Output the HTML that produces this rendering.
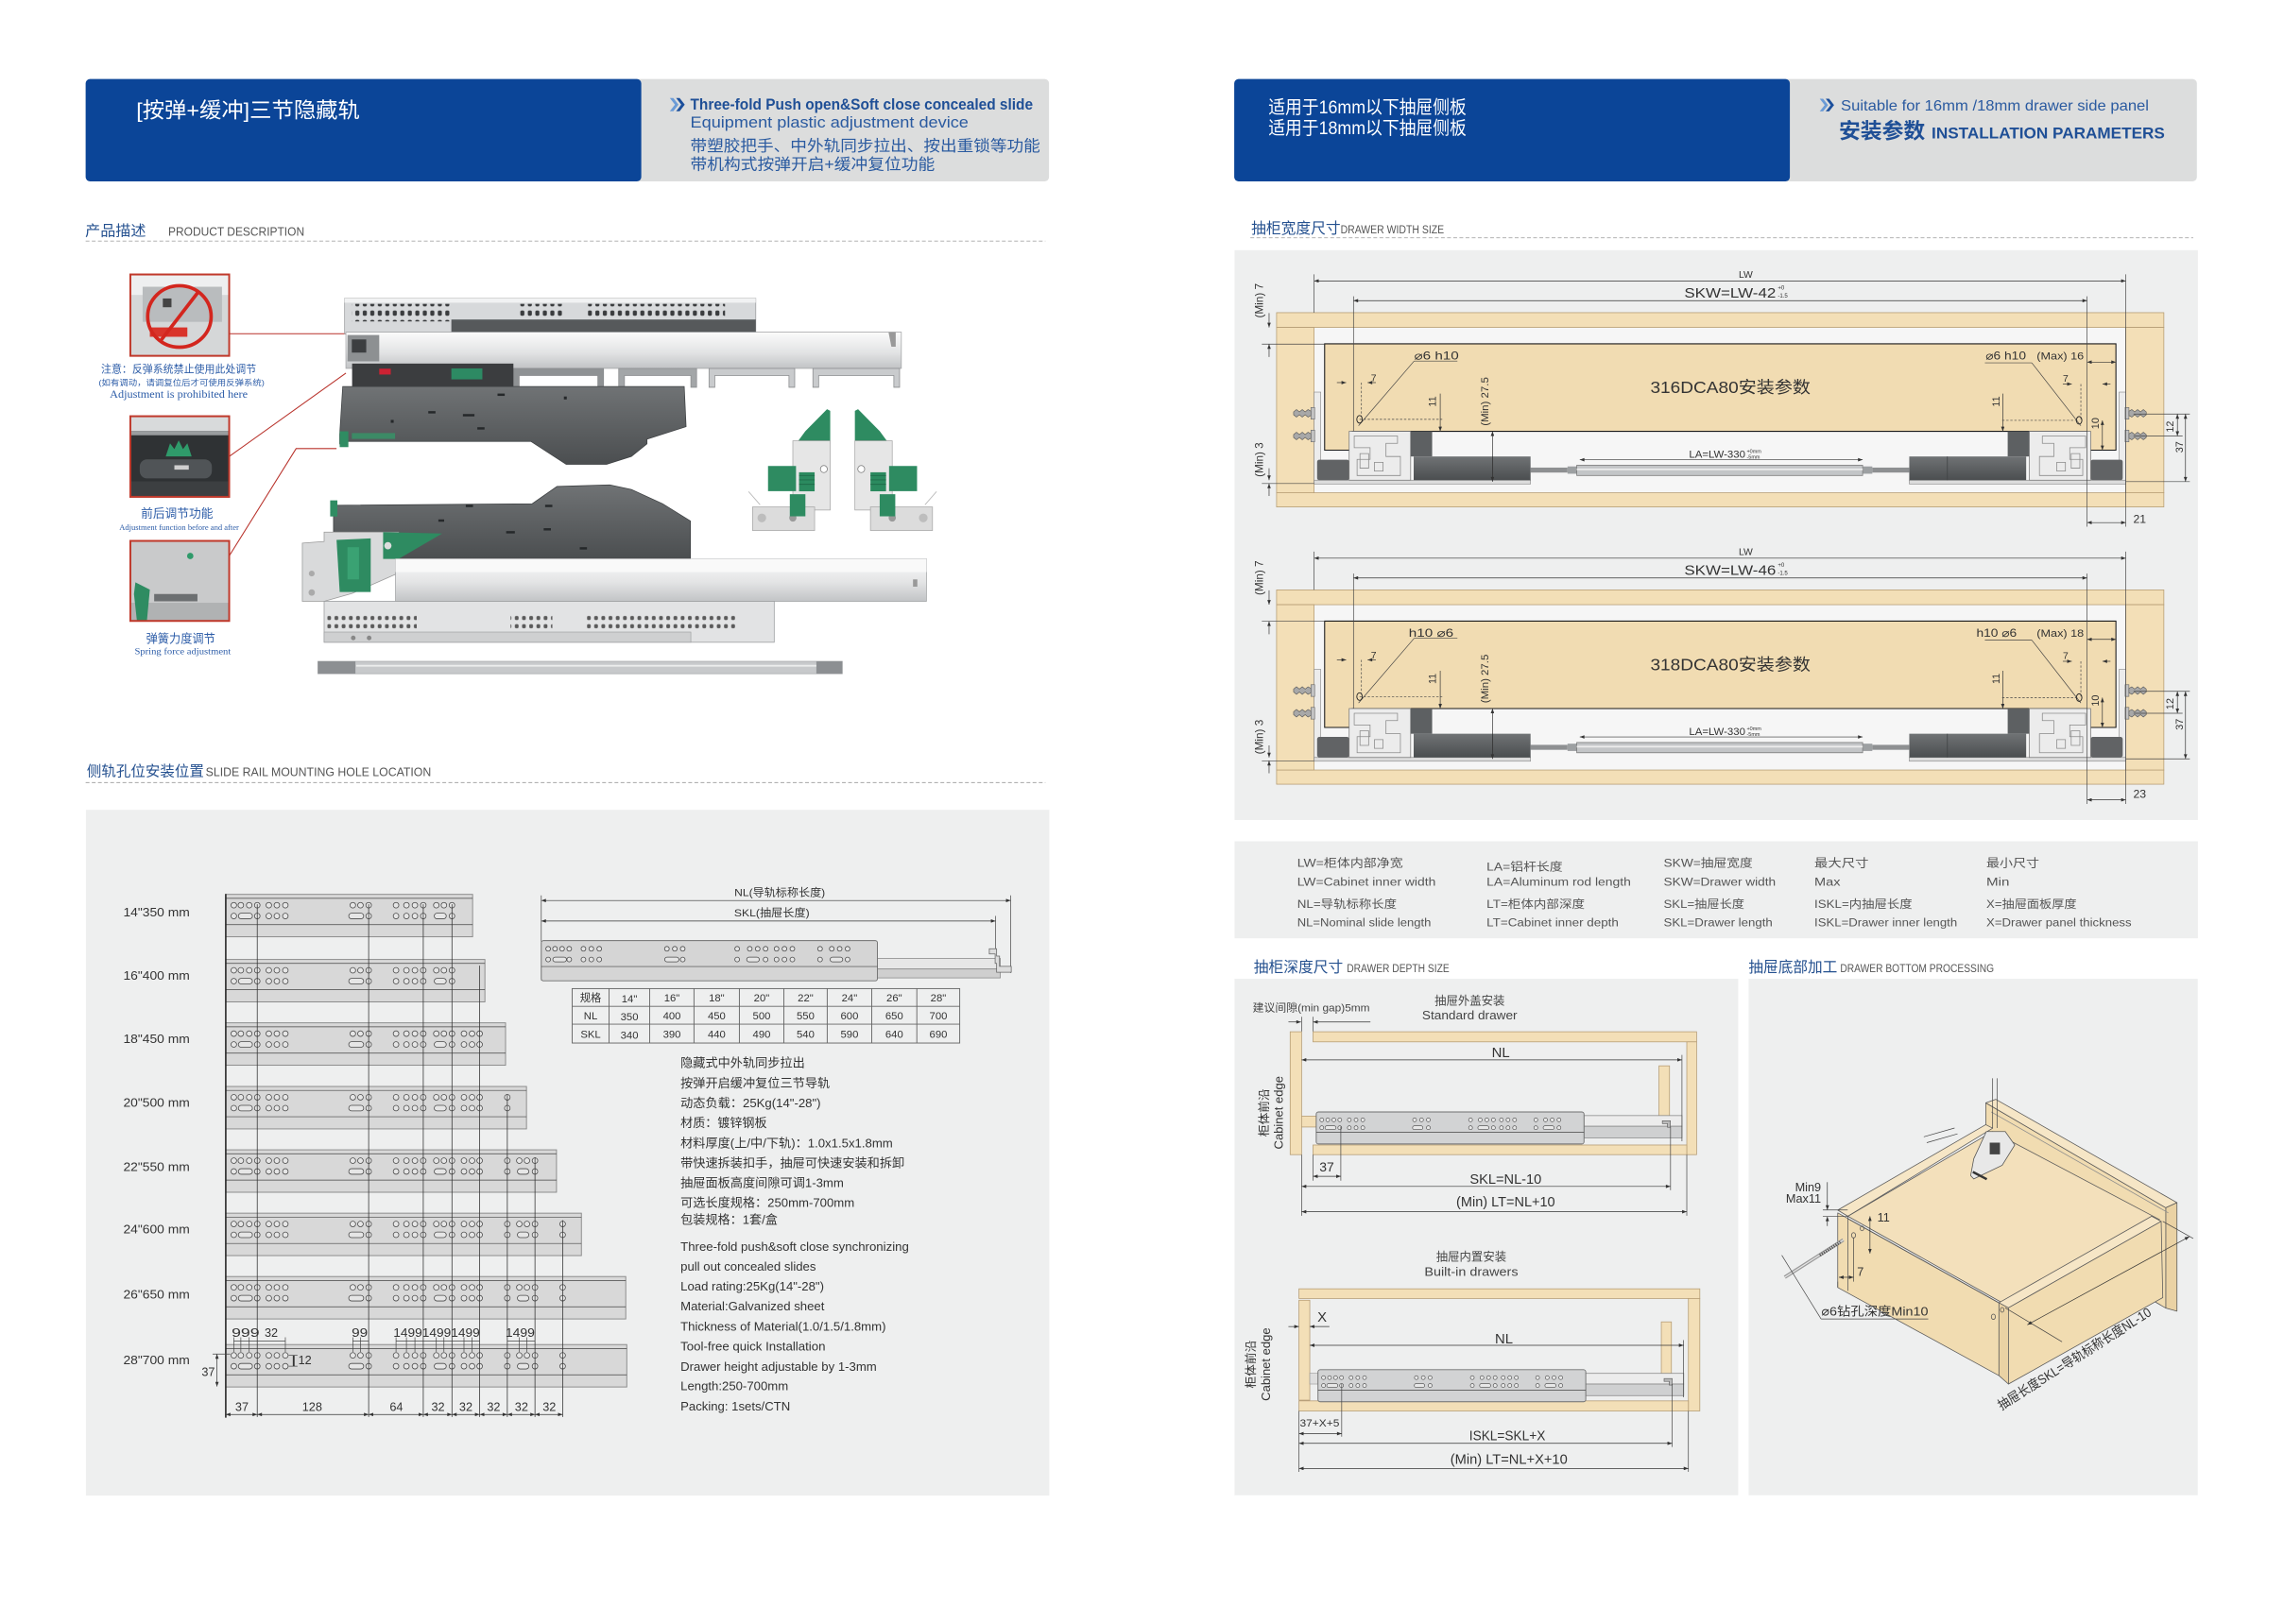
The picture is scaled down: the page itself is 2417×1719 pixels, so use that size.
<!DOCTYPE html>
<html><head><meta charset="utf-8"><title>Three-fold concealed slide</title>
<style>
html,body{margin:0;padding:0;background:#fff;width:2417px;height:1719px;overflow:hidden}
svg{display:block}
svg text{font-family:"Liberation Sans","Noto Sans CJK SC","DejaVu Sans",sans-serif}
.serif{font-family:"Liberation Serif","Noto Serif CJK SC",serif !important}
.d{stroke:#333;stroke-width:.45;fill:none;marker-start:url(#ar);marker-end:url(#ar)}
.e{stroke:#333;stroke-width:.45;fill:none;marker-end:url(#ar)}
.l{stroke:#444;stroke-width:.45;fill:none}
.ds{stroke:#444;stroke-width:.45;fill:none;stroke-dasharray:1.6 1.2}
.w{fill:#f3dfb7;stroke:#b59c74;stroke-width:.5}
.h{fill:#e6e6e6;stroke:#4a4a4a;stroke-width:.5}
.dk{fill:#5e6163}
</style></head><body>
<svg width="2417" height="1719" viewBox="0 0 1560 1110" preserveAspectRatio="none">
<defs>
<marker id="ar" viewBox="0 0 8 6" refX="8" refY="3" markerWidth="3.4" markerHeight="2.4" markerUnits="userSpaceOnUse" orient="auto-start-reverse"><path d="M0,0L8,3L0,6z" fill="#333"/></marker>
<linearGradient id="gs" x1="0" y1="0" x2="0" y2="1"><stop offset="0" stop-color="#fbfbfb"/><stop offset=".55" stop-color="#e3e4e5"/><stop offset="1" stop-color="#c2c4c6"/></linearGradient>
<linearGradient id="gd" x1="0" y1="0" x2="0" y2="1"><stop offset="0" stop-color="#707375"/><stop offset="1" stop-color="#4b4e50"/></linearGradient>
<pattern id="hp" width="5.2" height="6.4" patternUnits="userSpaceOnUse"><rect x="1" y="1" width="2.8" height="3.6" rx="1" fill="#3a3c3e"/></pattern>
<pattern id="hp2" width="5" height="5.6" patternUnits="userSpaceOnUse"><rect x="1" y="1" width="2.6" height="2.8" rx="1" fill="#5a5a5a"/></pattern>
<g id="gA" class="h"><circle cx="160.5" cy="7.4" r="1.9"/><circle cx="165.3" cy="7.4" r="1.9"/><circle cx="171" cy="7.4" r="1.9"/><circle cx="176.5" cy="7.4" r="1.9"/><circle cx="184.4" cy="7.4" r="1.9"/><circle cx="189.9" cy="7.4" r="1.9"/><circle cx="195.7" cy="7.4" r="1.9"/><circle cx="160.5" cy="14.8" r="1.9"/><rect x="163.6" y="12.9" width="9.6" height="3.8" rx="1.9"/><circle cx="176.5" cy="14.8" r="1.9"/><circle cx="184.4" cy="14.8" r="1.9"/><circle cx="189.9" cy="14.8" r="1.9"/><circle cx="195.7" cy="14.8" r="1.9"/></g>
<g id="gB" class="h"><circle cx="241.8" cy="7.4" r="1.9"/><circle cx="247" cy="7.4" r="1.9"/><circle cx="252.6" cy="7.4" r="1.9"/><rect x="239" y="12.9" width="10.2" height="3.8" rx="1.9"/><circle cx="252.6" cy="14.8" r="1.9"/></g>
<g id="gC" class="h"><circle cx="271.3" cy="7.4" r="1.9"/><circle cx="278.4" cy="7.4" r="1.9"/><circle cx="284.2" cy="7.4" r="1.9"/><circle cx="289.9" cy="7.4" r="1.9"/><circle cx="271.3" cy="14.8" r="1.9"/><circle cx="278.4" cy="14.8" r="1.9"/><circle cx="284.2" cy="14.8" r="1.9"/><circle cx="289.9" cy="14.8" r="1.9"/></g>
<g id="gD" class="h"><circle cx="298.8" cy="7.4" r="1.9"/><circle cx="304" cy="7.4" r="1.9"/><circle cx="309.5" cy="7.4" r="1.9"/><rect x="297.4" y="12.9" width="8.2" height="3.8" rx="1.9"/><circle cx="309.5" cy="14.8" r="1.9"/></g>
<g id="gE" class="h"><circle cx="317.7" cy="7.4" r="1.9"/><circle cx="323.2" cy="7.4" r="1.9"/><circle cx="328.4" cy="7.4" r="1.9"/><circle cx="317.7" cy="14.8" r="1.9"/><circle cx="323.2" cy="14.8" r="1.9"/><circle cx="328.4" cy="14.8" r="1.9"/></g>
<g id="gF" class="h"><circle cx="347.3" cy="7.4" r="1.9"/><circle cx="347.3" cy="14.8" r="1.9"/></g>
<g id="gG" class="h"><circle cx="355.5" cy="7.4" r="1.9"/><circle cx="360.7" cy="7.4" r="1.9"/><circle cx="366.2" cy="7.4" r="1.9"/><rect x="354.2" y="12.9" width="7.8" height="3.8" rx="1.9"/><circle cx="366.2" cy="14.8" r="1.9"/></g>
<g id="gH" class="h"><circle cx="385.1" cy="7.4" r="1.9"/><circle cx="385.1" cy="14.8" r="1.9"/></g>
<g id="dr">
 <rect x="1081.9" y="762.5" width="66.9" height="7.3" fill="#ececec" stroke="#888" stroke-width=".5"/>
 <rect x="1081.9" y="769.8" width="66.9" height="7.9" fill="#cfd0d1" stroke="#888" stroke-width=".5"/>
 <path d="M1135.4,766h5.5v4.5h-2v-2.5h-3.5z" fill="#bbb" stroke="#555" stroke-width=".4"/>
 <rect x="899" y="760" width="182.9" height="21.9" rx="1.5" fill="#d2d3d4" stroke="#6f6f6f" stroke-width=".6"/>
 <line x1="899" y1="774" x2="1081.9" y2="774" class="l"/>
 <g fill="#e8e8e8" stroke="#444" stroke-width=".4">
 <circle cx="902.8" cy="765.4" r="1.3"/><circle cx="906.9" cy="765.4" r="1.3"/><circle cx="911" cy="765.4" r="1.3"/><circle cx="915.1" cy="765.4" r="1.3"/>
 <circle cx="921.6" cy="765.4" r="1.3"/><circle cx="926.2" cy="765.4" r="1.3"/><circle cx="930.8" cy="765.4" r="1.3"/>
 <circle cx="966.2" cy="765.4" r="1.3"/><circle cx="970.9" cy="765.4" r="1.3"/><circle cx="975.6" cy="765.4" r="1.3"/>
 <circle cx="1004.4" cy="765.4" r="1.3"/><circle cx="1011" cy="765.4" r="1.3"/><circle cx="1015.5" cy="765.4" r="1.3"/><circle cx="1020" cy="765.4" r="1.3"/>
 <circle cx="1025.5" cy="765.4" r="1.3"/><circle cx="1030" cy="765.4" r="1.3"/><circle cx="1034.5" cy="765.4" r="1.3"/>
 <circle cx="1049" cy="765.4" r="1.3"/><circle cx="1055.6" cy="765.4" r="1.3"/><circle cx="1060.2" cy="765.4" r="1.3"/><circle cx="1064.8" cy="765.4" r="1.3"/>
 <circle cx="902.8" cy="770.8" r="1.3"/><rect x="905" y="769.5" width="7.5" height="2.6" rx="1.3"/><circle cx="915.1" cy="770.8" r="1.3"/>
 <circle cx="921.6" cy="770.8" r="1.3"/><circle cx="926.2" cy="770.8" r="1.3"/><circle cx="930.8" cy="770.8" r="1.3"/>
 <rect x="964.8" y="769.5" width="7" height="2.6" rx="1.3"/><circle cx="975.6" cy="770.8" r="1.3"/>
 <circle cx="1004.4" cy="770.8" r="1.3"/><rect x="1009.4" y="769.5" width="7.5" height="2.6" rx="1.3"/><circle cx="1020" cy="770.8" r="1.3"/>
 <circle cx="1025.5" cy="770.8" r="1.3"/><circle cx="1030" cy="770.8" r="1.3"/><circle cx="1034.5" cy="770.8" r="1.3"/>
 <circle cx="1049" cy="770.8" r="1.3"/><rect x="1054" y="769.5" width="7.5" height="2.6" rx="1.3"/><circle cx="1064.8" cy="770.8" r="1.3"/>
 </g>
</g>
<g id="sc"><rect x="896" y="-4" width="2.6" height="8" fill="#c3c3c3" stroke="#666" stroke-width=".4"/><path d="M884,-1L886,-2.6L888,-1L890,-2.6L892,-1L894,-2.6L896,-1.5V1.5L894,2.6L892,1L890,2.6L888,1L886,2.6L884,1Z" fill="#a8a8a8" stroke="#555" stroke-width=".4"/></g>
</defs>

<rect width="1560" height="1110" fill="#fff"/>

<!-- ================= LEFT HEADER ================= -->
<rect x="58.5" y="54" width="658" height="70" rx="3" fill="#dcdddd"/>
<rect x="58.5" y="54" width="379.5" height="70" rx="3" fill="#0b4598"/>
<text x="93.1" y="80.5" font-size="14.5" fill="#fff" textLength="152.7" lengthAdjust="spacingAndGlyphs">[按弹+缓冲]三节隐藏轨</text>
<path d="M457.5,67l3.5,4.5l-3.5,4.5h2.4l3.5,-4.5l-3.5,-4.5z" fill="#6b9bd6"/>
<path d="M461.8,67l3.5,4.5l-3.5,4.5h2.4l3.5,-4.5l-3.5,-4.5z" fill="#1b4f9c"/>
<text x="471.5" y="74.8" font-size="10.5" font-weight="bold" fill="#1f4f96" textLength="234" lengthAdjust="spacingAndGlyphs">Three-fold Push open&amp;Soft close concealed slide</text>
<text x="471.5" y="87.3" font-size="10.5" fill="#2a5aa0" textLength="190" lengthAdjust="spacingAndGlyphs">Equipment plastic adjustment device</text>
<text x="471.5" y="103.3" font-size="10.5" fill="#2a5aa0" textLength="239" lengthAdjust="spacingAndGlyphs">带塑胶把手、中外轨同步拉出、按出重锁等功能</text>
<text x="471.5" y="115.8" font-size="10.5" fill="#2a5aa0" textLength="167" lengthAdjust="spacingAndGlyphs">带机构式按弹开启+缓冲复位功能</text>

<text x="58.2" y="161" font-size="10" fill="#24508f" textLength="41.5" lengthAdjust="spacingAndGlyphs">产品描述</text>
<text x="114.9" y="161" font-size="8.5" fill="#555" textLength="93" lengthAdjust="spacingAndGlyphs">PRODUCT DESCRIPTION</text>
<line x1="58.5" y1="164.8" x2="714" y2="164.8" stroke="#a8a8a8" stroke-width=".6" stroke-dasharray="2.6 1.6"/>

<!-- ===== product area (x-compressed) ===== -->
<g transform="matrix(0.98537,0,0,1,0.85,0)">
<g>
 <rect x="89.5" y="187.6" width="68.5" height="55.6" fill="#d5d7d8"/>
 <rect x="89.5" y="187.6" width="68.5" height="14" fill="#eeeff0"/>
 <rect x="98" y="196" width="55" height="24" fill="#b9bcbe"/>
 <rect x="112" y="204" width="6" height="6" fill="#444"/>
 <rect x="103" y="223.8" width="26" height="6.4" fill="#d9342b"/>
 <ellipse cx="123.5" cy="216.3" rx="22" ry="21" fill="none" stroke="#d3261e" stroke-width="2.4"/>
 <line x1="137" y1="199" x2="110" y2="233.5" stroke="#d3261e" stroke-width="2.4"/>
 <rect x="89.5" y="187.6" width="68.5" height="55.6" fill="none" stroke="#c0392b" stroke-width="1.3"/>
</g>
<text x="123" y="254.8" font-size="7.2" fill="#2d5da8" text-anchor="middle" textLength="107.5" lengthAdjust="spacingAndGlyphs">注意：反弹系统禁止使用此处调节</text>
<text x="125" y="263.5" font-size="5.6" fill="#2d5da8" text-anchor="middle" textLength="115" lengthAdjust="spacingAndGlyphs">(如有调动，请调复位后才可使用反弹系统)</text>
<text x="123" y="271.8" class="serif" font-size="7.5" fill="#2d5da8" text-anchor="middle" textLength="95.6" lengthAdjust="spacingAndGlyphs">Adjustment is prohibited here</text>
<g>
 <rect x="89.5" y="284.5" width="68.5" height="55.1" fill="#2f3234"/>
 <rect x="89.5" y="284.5" width="68.5" height="10" fill="#d8dadb"/>
 <rect x="89.5" y="294.5" width="68.5" height="3" fill="#9a9d9f"/>
 <rect x="96" y="314" width="50" height="13" rx="5" fill="#505457"/>
 <rect x="120" y="318" width="10" height="3" fill="#cfcfcf"/>
 <path d="M114,312l3,-9l3,4l3,-6l3,6l3,-4l3,9z" fill="#2f9a6a"/>
 <rect x="89.5" y="329" width="68.5" height="10.6" fill="#3c3f41"/>
 <rect x="89.5" y="284.5" width="68.5" height="55.1" fill="none" stroke="#c0392b" stroke-width="1.3"/>
</g>
<text x="121.8" y="353.8" font-size="8.4" fill="#2d5da8" text-anchor="middle" textLength="50" lengthAdjust="spacingAndGlyphs">前后调节功能</text>
<text x="123.3" y="362.2" class="serif" font-size="5.6" fill="#2d5da8" text-anchor="middle" textLength="83" lengthAdjust="spacingAndGlyphs">Adjustment function before and after</text>
<g>
 <rect x="89.5" y="369.7" width="68.5" height="54.7" fill="#c9cacb"/>
 <rect x="89.5" y="412" width="68.5" height="12.4" fill="#b0b2b3"/>
 <circle cx="131" cy="380" r="2.2" fill="#2f9a6a"/>
 <rect x="106" y="406" width="30" height="5" fill="#6c6f71"/>
 <path d="M93,398l10,5l-2,21h-7l-2,-18z" fill="#2f8c62"/>
 <rect x="89.5" y="369.7" width="68.5" height="54.7" fill="none" stroke="#c0392b" stroke-width="1.3"/>
</g>
<text x="124.4" y="439.4" font-size="8.4" fill="#2d5da8" text-anchor="middle" textLength="48" lengthAdjust="spacingAndGlyphs">弹簧力度调节</text>
<text x="125.8" y="447.3" class="serif" font-size="6" fill="#2d5da8" text-anchor="middle" textLength="66.7" lengthAdjust="spacingAndGlyphs">Spring force adjustment</text>
<g stroke="#b8322b" stroke-width=".7" fill="none">
 <polyline points="158,228.1 238.9,228.1"/>
 <polyline points="158,312 238.9,255"/>
 <polyline points="158,380 204.4,306.6 232.4,306.6"/>
</g>

<rect x="238" y="203.9" width="285" height="24.3" fill="#d7d9db" stroke="#9a9c9e" stroke-width=".5"/>
<rect x="238" y="203.9" width="285" height="3" fill="#f1f2f3"/>
<rect x="243" y="207.7" width="69" height="12" fill="url(#hp)"/>
<rect x="359.4" y="207.7" width="30" height="11" fill="url(#hp)"/>
<rect x="406.7" y="207.7" width="95" height="11" fill="url(#hp)"/>
<rect x="312" y="218.4" width="211" height="8.6" fill="#56595b"/>
<rect x="238.9" y="227" width="385" height="24.8" fill="url(#gs)" stroke="#a3a5a7" stroke-width=".5"/>
<rect x="240" y="229" width="22" height="18" fill="#8d9092"/>
<rect x="243" y="232" width="10" height="9" fill="#3c3e40"/>
<path d="M615,227h5v10h-3z" fill="#999"/>
<g stroke="#8a8c8e" stroke-width=".5">
 <path d="M355,251.8h62.5v12.9h-4v-8h-54.5v8h-4z" fill="#8f9294"/>
 <path d="M428,251.8h54v12.9h-4v-8h-46v8h-4z" fill="#a3a6a8"/>
 <path d="M490.6,251.8h59.4v12.9h-4v-8h-51.4v8h-4z" fill="#c9cbcd"/>
 <path d="M562.6,251.8h60.1v12.9h-4v-8h-52.1v8h-4z" fill="#c9cbcd"/>
</g>
<rect x="243.2" y="248.5" width="111.8" height="16.2" fill="#3b3d3f"/>
<rect x="312" y="251.8" width="21.5" height="7.5" fill="#2d8a63"/>
<rect x="262" y="252" width="8" height="4" fill="#c23"/>
<polygon points="236.7,264.2 473.4,264.2 474.7,291.6 447.6,300.2 447.6,303.4 436.8,312 419.6,317.4 391.6,317.4 367.1,301.7 238.9,301.7 234.6,303.4 234.6,297" fill="url(#gd)" stroke="#3e4143" stroke-width=".5"/>
<g fill="#25282a"><rect x="344" y="269" width="5" height="1.6"/><rect x="296" y="281" width="5" height="1.6"/><rect x="320" y="283" width="8" height="1.6"/><rect x="330" y="292" width="5" height="1.6"/><rect x="390" y="271" width="2" height="2"/><rect x="270" y="287" width="2" height="2"/></g>
<rect x="234.6" y="294.8" width="6" height="10.8" fill="#2f8c62"/>
<rect x="243" y="296" width="30" height="4" fill="#3c8a66"/>

<polygon points="230.3,345.4 368,344.3 385.2,332.5 421.8,331.4 436.8,334.6 458.4,344.3 477.7,356.1 477.7,382 230.3,382" fill="url(#gd)" stroke="#3e4143" stroke-width=".5"/>
<g fill="#25282a"><rect x="322" y="345" width="5" height="1.6"/><rect x="377" y="345" width="5" height="1.6"/><rect x="303" y="355" width="4" height="1.6"/><rect x="350" y="363" width="6" height="1.6"/><rect x="376" y="361" width="5" height="1.6"/><rect x="401" y="374" width="5" height="1.6"/></g>
<rect x="228" y="342" width="5" height="11" fill="#2f8c62"/>

<polygon points="208.7,371.2 223.8,370.1 223.8,363.7 275.4,363.7 275.4,391.6 243.2,405.6 223.8,411 208.7,411" fill="#d9dadb" stroke="#9a9a9a" stroke-width=".5"/>
<circle cx="215.2" cy="405" r="2.2" fill="#aaa"/><circle cx="215.2" cy="392" r="2" fill="#aaa"/>
<polygon points="232.4,369 256.1,368 256.1,404.6 234.6,404.6" fill="#2e8b61"/>
<polygon points="264.7,363.7 305.6,364.7 275.4,382 264.7,382" fill="#2e8b61"/>
<rect x="240" y="374" width="8" height="22" fill="#3aa273"/>
<circle cx="268" cy="373" r="2.5" fill="#ddd"/>

<rect x="273.3" y="382" width="368" height="29" fill="url(#gs)" stroke="#a0a2a4" stroke-width=".5"/>
<rect x="273.3" y="382" width="368" height="9" fill="#f9f9f9"/>
<rect x="632" y="396" width="3" height="5" fill="#999"/>
<rect x="223.8" y="411" width="312" height="28" fill="#e2e3e4" stroke="#9a9c9e" stroke-width=".5"/>
<rect x="226" y="419.5" width="62" height="12" fill="url(#hp2)"/>
<rect x="353" y="419.5" width="29" height="12" fill="url(#hp2)"/>
<rect x="406" y="419.5" width="104" height="12" fill="url(#hp2)"/>
<rect x="223.8" y="432" width="254.2" height="7" fill="#cfd0d1" stroke="#9a9c9e" stroke-width=".4"/>
<circle cx="244" cy="436" r="1.6" fill="#888"/><circle cx="255" cy="436" r="1.6" fill="#888"/>
<rect x="219.5" y="452" width="363.5" height="8.5" fill="#c7c9cb" stroke="#9c9ea0" stroke-width=".4"/>
<rect x="219.5" y="452" width="26" height="8.5" fill="#8c8f92"/>
<rect x="565" y="452" width="18" height="8.5" fill="#8c8f92"/>
<line x1="246" y1="455" x2="565" y2="455" stroke="#eceded" stroke-width="1.2"/>

<g id="clip">
 <polygon points="572.4,279.7 574.6,280.8 574.6,303.4 550.9,303.4 557.3,294.8" fill="#2e8b61"/>
 <rect x="548.7" y="301.3" width="25.9" height="47.3" fill="#e6e6e6" stroke="#a8a8a8" stroke-width=".5"/>
 <rect x="531.5" y="318.5" width="19.4" height="17.2" fill="#2e8b61"/>
 <rect x="553" y="322.8" width="10.8" height="13" fill="#2b8a5f"/>
 <g stroke="#1f6b48" stroke-width=".6"><line x1="553" y1="325" x2="563.8" y2="325"/><line x1="553" y1="328" x2="563.8" y2="328"/><line x1="553" y1="331" x2="563.8" y2="331"/></g>
 <circle cx="570.2" cy="320.6" r="2.4" fill="#fff" stroke="#777" stroke-width=".5"/>
 <rect x="520.8" y="346.5" width="43" height="16.1" fill="#dcdcdc" stroke="#a8a8a8" stroke-width=".5"/>
 <circle cx="527.2" cy="354" r="3" fill="#bdbdbd"/><circle cx="548.7" cy="354" r="2.5" fill="#9a9a9a"/>
 <rect x="546.6" y="337.8" width="10.8" height="15.1" fill="#2e8b61"/>
 <line x1="518" y1="336" x2="526" y2="345" stroke="#bbb" stroke-width=".6"/>
</g>
<use href="#clip" transform="translate(1166.3,0) scale(-1,1)"/>
</g>

<!-- ================= SLIDE RAIL MOUNTING ================= -->
<text x="59.3" y="530.5" font-size="10" fill="#24508f" textLength="80" lengthAdjust="spacingAndGlyphs">侧轨孔位安装位置</text>
<text x="140.5" y="530.5" font-size="8.6" fill="#555" textLength="154" lengthAdjust="spacingAndGlyphs">SLIDE RAIL MOUNTING HOLE LOCATION</text>
<line x1="58.5" y1="534.9" x2="714" y2="534.9" stroke="#a8a8a8" stroke-width=".6" stroke-dasharray="2.6 1.6"/>
<rect x="58.7" y="553.5" width="658" height="468.7" fill="#eeefef"/>

<g transform="translate(-0.8,0)">
<g font-size="8.4" fill="#333">
 <text x="85" y="626.2" textLength="45.4" lengthAdjust="spacingAndGlyphs">14"350 mm</text>
 <text x="85" y="669.5" textLength="45.4" lengthAdjust="spacingAndGlyphs">16"400 mm</text>
 <text x="85" y="713" textLength="45.4" lengthAdjust="spacingAndGlyphs">18"450 mm</text>
 <text x="85" y="756.6" textLength="45.4" lengthAdjust="spacingAndGlyphs">20"500 mm</text>
 <text x="85" y="800.5" textLength="45.4" lengthAdjust="spacingAndGlyphs">22"550 mm</text>
 <text x="85" y="842.9" textLength="45.4" lengthAdjust="spacingAndGlyphs">24"600 mm</text>
 <text x="85" y="887.6" textLength="45.4" lengthAdjust="spacingAndGlyphs">26"650 mm</text>
 <text x="85" y="932.4" textLength="45.4" lengthAdjust="spacingAndGlyphs">28"700 mm</text>
</g>
<g fill="#d8d8d8" stroke="#878787" stroke-width=".6">
 <rect x="155" y="611.3" width="168.6" height="29"/>
 <rect x="155" y="655.8" width="177" height="29"/>
 <rect x="155" y="699.1" width="191.1" height="29"/>
 <rect x="155" y="742.6" width="205.4" height="29"/>
 <rect x="155" y="785.9" width="225.9" height="29"/>
 <rect x="155" y="829.2" width="242.9" height="29"/>
 <rect x="155" y="872.5" width="273.2" height="29"/>
 <rect x="155" y="919" width="273.9" height="29"/>
</g>
<g class="l">
 <line x1="155" y1="632" x2="323.6" y2="632"/><line x1="155" y1="614" x2="323.6" y2="614"/>
 <line x1="155" y1="676.5" x2="332" y2="676.5"/><line x1="155" y1="658.5" x2="332" y2="658.5"/>
 <line x1="155" y1="719.8" x2="346.1" y2="719.8"/><line x1="155" y1="701.8" x2="346.1" y2="701.8"/>
 <line x1="155" y1="763.3" x2="360.4" y2="763.3"/><line x1="155" y1="745.3" x2="360.4" y2="745.3"/>
 <line x1="155" y1="806.6" x2="380.9" y2="806.6"/><line x1="155" y1="788.6" x2="380.9" y2="788.6"/>
 <line x1="155" y1="849.9" x2="397.9" y2="849.9"/><line x1="155" y1="831.9" x2="397.9" y2="831.9"/>
 <line x1="155" y1="893.2" x2="428.2" y2="893.2"/><line x1="155" y1="875.2" x2="428.2" y2="875.2"/>
 <line x1="155" y1="939.7" x2="428.9" y2="939.7"/><line x1="155" y1="921.7" x2="428.9" y2="921.7"/>
</g>
<use href="#gA" y="611.3"/><use href="#gB" y="611.3"/><use href="#gC" y="611.3"/><use href="#gD" y="611.3"/>
<use href="#gA" y="655.8"/><use href="#gB" y="655.8"/><use href="#gC" y="655.8"/><use href="#gD" y="655.8"/>
<use href="#gA" y="699.1"/><use href="#gB" y="699.1"/><use href="#gC" y="699.1"/><use href="#gD" y="699.1"/><use href="#gE" y="699.1"/>
<use href="#gA" y="742.6"/><use href="#gB" y="742.6"/><use href="#gC" y="742.6"/><use href="#gD" y="742.6"/><use href="#gE" y="742.6"/><use href="#gF" y="742.6"/>
<use href="#gA" y="785.9"/><use href="#gB" y="785.9"/><use href="#gC" y="785.9"/><use href="#gD" y="785.9"/><use href="#gE" y="785.9"/><use href="#gF" y="785.9"/><use href="#gG" y="785.9"/>
<use href="#gA" y="829.2"/><use href="#gB" y="829.2"/><use href="#gC" y="829.2"/><use href="#gD" y="829.2"/><use href="#gE" y="829.2"/><use href="#gF" y="829.2"/><use href="#gG" y="829.2"/><use href="#gH" y="829.2"/>
<use href="#gA" y="872.5"/><use href="#gB" y="872.5"/><use href="#gC" y="872.5"/><use href="#gD" y="872.5"/><use href="#gE" y="872.5"/><use href="#gF" y="872.5"/><use href="#gG" y="872.5"/><use href="#gH" y="872.5"/>
<use href="#gA" y="919"/><use href="#gB" y="919"/><use href="#gC" y="919"/><use href="#gD" y="919"/><use href="#gE" y="919"/><use href="#gF" y="919"/><use href="#gG" y="919"/><use href="#gH" y="919"/>
<line x1="155" y1="611" x2="155" y2="969" stroke="#222" stroke-width="1"/>
<g stroke="#333" stroke-width=".5">
 <line x1="176.5" y1="618" x2="176.5" y2="968.5"/>
 <line x1="252.6" y1="618" x2="252.6" y2="968.5"/>
 <line x1="289.9" y1="618" x2="289.9" y2="968.5"/>
 <line x1="309.5" y1="618" x2="309.5" y2="968.5"/>
 <line x1="328.4" y1="660" x2="328.4" y2="968.5"/>
 <line x1="347.3" y1="748" x2="347.3" y2="968.5"/>
 <line x1="366.2" y1="791" x2="366.2" y2="968.5"/>
 <line x1="385.1" y1="834" x2="385.1" y2="968.5"/>
</g>
<g class="d">
 <line x1="155" y1="966.8" x2="176.5" y2="966.8"/>
 <line x1="176.5" y1="966.8" x2="252.6" y2="966.8"/>
 <line x1="252.6" y1="966.8" x2="289.9" y2="966.8"/>
 <line x1="289.9" y1="966.8" x2="309.5" y2="966.8"/>
 <line x1="309.5" y1="966.8" x2="328.4" y2="966.8"/>
 <line x1="328.4" y1="966.8" x2="347.3" y2="966.8"/>
 <line x1="347.3" y1="966.8" x2="366.2" y2="966.8"/>
 <line x1="366.2" y1="966.8" x2="385.1" y2="966.8"/>
</g>
<g font-size="8.2" fill="#333" text-anchor="middle">
 <text x="166" y="964.3">37</text><text x="214" y="964.3">128</text><text x="271.5" y="964.3">64</text>
 <text x="300" y="964.3">32</text><text x="319" y="964.3">32</text><text x="338" y="964.3">32</text><text x="357" y="964.3">32</text><text x="376" y="964.3">32</text>
</g>
<g class="l">
 <line x1="160.5" y1="916.6" x2="195.7" y2="916.6"/>
 <line x1="160.5" y1="914" x2="160.5" y2="924"/><line x1="165.3" y1="914" x2="165.3" y2="924"/><line x1="171" y1="914" x2="171" y2="924"/><line x1="195.7" y1="914" x2="195.7" y2="924"/>
 <line x1="241.8" y1="916.6" x2="252.6" y2="916.6"/><line x1="241.8" y1="914" x2="241.8" y2="924"/><line x1="247" y1="914" x2="247" y2="924"/>
 <line x1="271.3" y1="916.6" x2="328.4" y2="916.6"/>
 <line x1="271.3" y1="914" x2="271.3" y2="924"/><line x1="278.4" y1="914" x2="278.4" y2="924"/><line x1="284.2" y1="914" x2="284.2" y2="924"/>
 <line x1="298.8" y1="914" x2="298.8" y2="924"/><line x1="304" y1="914" x2="304" y2="924"/><line x1="317.7" y1="914" x2="317.7" y2="924"/><line x1="323.2" y1="914" x2="323.2" y2="924"/>
 <line x1="347.3" y1="916.6" x2="366.2" y2="916.6"/><line x1="355.5" y1="914" x2="355.5" y2="924"/><line x1="360.7" y1="914" x2="360.7" y2="924"/>
 <line x1="146" y1="925.5" x2="158" y2="925.5"/>
 <line x1="198" y1="926.4" x2="204" y2="926.4"/><line x1="198" y1="933.8" x2="204" y2="933.8"/>
</g>
<g font-size="8.2" fill="#333">
 <text x="159" y="913.6" textLength="19" lengthAdjust="spacingAndGlyphs">999</text>
 <text x="181.5" y="913.6">32</text>
 <text x="241" y="913.6" textLength="11" lengthAdjust="spacingAndGlyphs">99</text>
 <text x="269.5" y="913.6" textLength="59" lengthAdjust="spacingAndGlyphs">149914991499</text>
 <text x="346" y="913.6" textLength="20" lengthAdjust="spacingAndGlyphs">1499</text>
 <text x="204.5" y="932.4">12</text>
 <text x="138.5" y="940.4">37</text>
</g>
<line x1="149" y1="925.5" x2="149" y2="947.7" class="d"/>
<line x1="201.4" y1="926.4" x2="201.4" y2="933.8" stroke="#333" stroke-width="1.2"/>
</g>

<text x="532.6" y="612.4" font-size="7.4" fill="#333" text-anchor="middle" textLength="62" lengthAdjust="spacingAndGlyphs">NL(导轨标称长度)</text>
<text x="527.2" y="626.3" font-size="7.4" fill="#333" text-anchor="middle" textLength="51.5" lengthAdjust="spacingAndGlyphs">SKL(抽屉长度)</text>
<line x1="369.7" y1="615.5" x2="690.3" y2="615.5" class="d"/>
<line x1="369.7" y1="629.5" x2="680" y2="629.5" class="d"/>
<g class="l"><line x1="369.7" y1="612" x2="369.7" y2="670"/><line x1="690.3" y1="612" x2="690.3" y2="665"/><line x1="680" y1="626" x2="680" y2="668"/></g>
<rect x="599.3" y="655.1" width="83.9" height="7.2" fill="#e6e6e6" stroke="#888" stroke-width=".5"/>
<rect x="599.3" y="662.3" width="83.9" height="6.1" fill="#cfcfcf" stroke="#888" stroke-width=".5"/>
<path d="M675.7,648.5h5v5h2v7h8v4h-10v-6h-1v-6.5h-4z" fill="#ddd" stroke="#666" stroke-width=".5"/>
<rect x="369.7" y="642.9" width="229.6" height="27.5" rx="1.5" fill="#d5d5d5" stroke="#6f6f6f" stroke-width=".6"/>
<line x1="369.7" y1="660.6" x2="599.3" y2="660.6" class="l"/>
<g class="h">
 <circle cx="374.4" cy="648.5" r="1.6"/><circle cx="379.1" cy="648.5" r="1.6"/><circle cx="383.9" cy="648.5" r="1.6"/><circle cx="388.8" cy="648.5" r="1.6"/>
 <circle cx="398.5" cy="648.5" r="1.6"/><circle cx="403.9" cy="648.5" r="1.6"/><circle cx="409.3" cy="648.5" r="1.6"/>
 <circle cx="374.4" cy="655.8" r="1.6"/><rect x="377.6" y="654.2" width="9.3" height="3.2" rx="1.6"/><circle cx="388.8" cy="655.8" r="1.6"/>
 <circle cx="398.5" cy="655.8" r="1.6"/><circle cx="403.9" cy="655.8" r="1.6"/><circle cx="409.3" cy="655.8" r="1.6"/>
 <circle cx="455.5" cy="648.5" r="1.6"/><circle cx="460.9" cy="648.5" r="1.6"/><circle cx="466.3" cy="648.5" r="1.6"/>
 <rect x="454" y="654.2" width="9.7" height="3.2" rx="1.6"/><circle cx="466.3" cy="655.8" r="1.6"/>
 <circle cx="503.5" cy="648.5" r="1.6"/><circle cx="512.1" cy="648.5" r="1.6"/><circle cx="517.5" cy="648.5" r="1.6"/><circle cx="522.9" cy="648.5" r="1.6"/>
 <circle cx="530.4" cy="648.5" r="1.6"/><circle cx="535.8" cy="648.5" r="1.6"/><circle cx="541.2" cy="648.5" r="1.6"/>
 <circle cx="503.5" cy="655.8" r="1.6"/><rect x="510" y="654.2" width="8.6" height="3.2" rx="1.6"/><circle cx="522.9" cy="655.8" r="1.6"/>
 <circle cx="530.4" cy="655.8" r="1.6"/><circle cx="535.8" cy="655.8" r="1.6"/><circle cx="541.2" cy="655.8" r="1.6"/>
 <circle cx="560.1" cy="648.5" r="1.6"/><circle cx="568.1" cy="648.5" r="1.6"/><circle cx="573.5" cy="648.5" r="1.6"/><circle cx="578.9" cy="648.5" r="1.6"/>
 <circle cx="560.1" cy="655.8" r="1.6"/><rect x="567" y="654.2" width="8.6" height="3.2" rx="1.6"/><circle cx="578.9" cy="655.8" r="1.6"/>
</g>
<g fill="none" stroke="#666" stroke-width=".6">
 <rect x="390.8" y="675.7" width="264.7" height="37.2"/>
 <line x1="390.8" y1="687.8" x2="655.5" y2="687.8"/><line x1="390.8" y1="700" x2="655.5" y2="700"/>
 <line x1="416" y1="675.7" x2="416" y2="712.9"/><line x1="443.7" y1="675.7" x2="443.7" y2="712.9"/><line x1="474" y1="675.7" x2="474" y2="712.9"/>
 <line x1="505" y1="675.7" x2="505" y2="712.9"/><line x1="535.4" y1="675.7" x2="535.4" y2="712.9"/><line x1="565" y1="675.7" x2="565" y2="712.9"/>
 <line x1="595.4" y1="675.7" x2="595.4" y2="712.9"/><line x1="626.2" y1="675.7" x2="626.2" y2="712.9"/>
</g>
<g font-size="7.3" fill="#333" text-anchor="middle">
 <text x="403.4" y="684.4">规格</text><text x="429.9" y="685.2">14"</text><text x="458.9" y="684.4">16"</text><text x="489.5" y="684.4">18"</text><text x="520.2" y="684.4">20"</text><text x="550.2" y="684.4">22"</text><text x="580.2" y="684.4">24"</text><text x="610.8" y="684.4">26"</text><text x="640.9" y="684.4">28"</text>
 <text x="403.4" y="696.6">NL</text><text x="429.9" y="697.4">350</text><text x="458.9" y="696.6">400</text><text x="489.5" y="696.6">450</text><text x="520.2" y="696.6">500</text><text x="550.2" y="696.6">550</text><text x="580.2" y="696.6">600</text><text x="610.8" y="696.6">650</text><text x="640.9" y="696.6">700</text>
 <text x="403.4" y="709.2">SKL</text><text x="429.9" y="709.9">340</text><text x="458.9" y="709.2">390</text><text x="489.5" y="709.2">440</text><text x="520.2" y="709.2">490</text><text x="550.2" y="709.2">540</text><text x="580.2" y="709.2">590</text><text x="610.8" y="709.2">640</text><text x="640.9" y="709.2">690</text>
</g>
<g font-size="8.4" fill="#333">
 <text x="464.8" y="729.2" textLength="85" lengthAdjust="spacingAndGlyphs">隐藏式中外轨同步拉出</text>
 <text x="464.8" y="743.1" textLength="102" lengthAdjust="spacingAndGlyphs">按弹开启缓冲复位三节导轨</text>
 <text x="464.8" y="756.9" textLength="95.8" lengthAdjust="spacingAndGlyphs">动态负载：25Kg(14"-28")</text>
 <text x="464.8" y="770.5" textLength="59" lengthAdjust="spacingAndGlyphs">材质：镀锌钢板</text>
 <text x="464.8" y="784.1" textLength="145" lengthAdjust="spacingAndGlyphs">材料厚度(上/中/下轨)：1.0x1.5x1.8mm</text>
 <text x="464.8" y="797.7" textLength="153" lengthAdjust="spacingAndGlyphs">带快速拆装扣手，抽屉可快速安装和拆卸</text>
 <text x="464.8" y="811.3" textLength="111.5" lengthAdjust="spacingAndGlyphs">抽屉面板高度间隙可调1-3mm</text>
 <text x="464.8" y="824.9" textLength="118.8" lengthAdjust="spacingAndGlyphs">可选长度规格：250mm-700mm</text>
 <text x="464.8" y="836.6" textLength="66.3" lengthAdjust="spacingAndGlyphs">包装规格：1套/盒</text>
 <text x="464.8" y="854.8" textLength="156" lengthAdjust="spacingAndGlyphs">Three-fold push&amp;soft close synchronizing</text>
 <text x="464.8" y="868.4" textLength="92.5" lengthAdjust="spacingAndGlyphs">pull out concealed slides</text>
 <text x="464.8" y="882" textLength="98" lengthAdjust="spacingAndGlyphs">Load rating:25Kg(14"-28")</text>
 <text x="464.8" y="895.6" textLength="98.3" lengthAdjust="spacingAndGlyphs">Material:Galvanized sheet</text>
 <text x="464.8" y="909.4" textLength="140.3" lengthAdjust="spacingAndGlyphs">Thickness of Material(1.0/1.5/1.8mm)</text>
 <text x="464.8" y="923" textLength="99" lengthAdjust="spacingAndGlyphs">Tool-free quick Installation</text>
 <text x="464.8" y="936.9" textLength="134" lengthAdjust="spacingAndGlyphs">Drawer height adjustable by 1-3mm</text>
 <text x="464.8" y="950.3" textLength="73.6" lengthAdjust="spacingAndGlyphs">Length:250-700mm</text>
 <text x="464.8" y="964.1" textLength="74.9" lengthAdjust="spacingAndGlyphs">Packing: 1sets/CTN</text>
</g>

<!-- ================= RIGHT HEADER ================= -->
<rect x="843" y="54" width="657.5" height="70" rx="3" fill="#dcdddd"/>
<rect x="843" y="54" width="379.5" height="70" rx="3" fill="#0b4598"/>
<text x="866.3" y="77.6" font-size="12.5" fill="#fff" textLength="135.3" lengthAdjust="spacingAndGlyphs">适用于16mm以下抽屉侧板</text>
<text x="866.3" y="91.6" font-size="12.5" fill="#fff" textLength="135.3" lengthAdjust="spacingAndGlyphs">适用于18mm以下抽屉侧板</text>
<path d="M1242.9,67.5l3.4,4.3l-3.4,4.3h2.3l3.4,-4.3l-3.4,-4.3z" fill="#6b9bd6"/>
<path d="M1247,67.5l3.4,4.3l-3.4,4.3h2.3l3.4,-4.3l-3.4,-4.3z" fill="#1b4f9c"/>
<text x="1257.3" y="75.5" font-size="10" fill="#2a5aa0" textLength="210.4" lengthAdjust="spacingAndGlyphs">Suitable for 16mm /18mm drawer side panel</text>
<text x="1256" y="94.5" font-size="14.5" font-weight="bold" fill="#1f4f96" textLength="58.9" lengthAdjust="spacingAndGlyphs">安装参数</text>
<text x="1319.3" y="94.5" font-size="11" font-weight="bold" fill="#1f4f96" textLength="159.3" lengthAdjust="spacingAndGlyphs">INSTALLATION PARAMETERS</text>

<text x="854.6" y="159.5" font-size="10.2" fill="#24508f" textLength="61" lengthAdjust="spacingAndGlyphs">抽柜宽度尺寸</text>
<text x="915.6" y="159.5" font-size="8" fill="#555" textLength="70.7" lengthAdjust="spacingAndGlyphs">DRAWER WIDTH SIZE</text>
<line x1="854" y1="162.5" x2="1498" y2="162.5" stroke="#a8a8a8" stroke-width=".6" stroke-dasharray="2.6 1.6"/>
<rect x="843.2" y="171" width="658" height="389.5" fill="#eeefef"/>

<!-- width diagrams (x-compressed) -->
<g transform="matrix(0.98572,0,0,1,12.17,0)">
<g id="wd">
 <rect x="898.2" y="223.8" width="562.4" height="113" fill="#f6f6f6"/>
 <rect x="872.2" y="213.7" width="614.8" height="10.1" class="w"/>
 <rect x="872.2" y="336.8" width="614.8" height="9.7" class="w"/>
 <rect x="872.2" y="223.8" width="26" height="113" class="w"/>
 <rect x="1460.6" y="223.8" width="26.4" height="113" class="w"/>
 <path d="M905.5,235H1453.8V307.7H1433.8V294.8H924.6V307.7H905.5Z" fill="#f1dcb2" stroke="#1a1a1a" stroke-width=".7"/>
 <g id="mech">
  <rect x="898.2" y="268" width="4.6" height="62" fill="#ececec" stroke="#888" stroke-width=".4"/>
  <use href="#sc" y="282.5"/><use href="#sc" y="298"/>
  <rect x="898.2" y="328.2" width="150" height="2.6" fill="#dcdcdc" stroke="#888" stroke-width=".4"/>
  <rect x="900.3" y="314.2" width="22.2" height="14" rx="1.5" fill="#616365"/>
  <rect x="922.5" y="294.8" width="42.6" height="33.4" fill="#ececec" stroke="#7a7a7a" stroke-width=".5"/>
  <path d="M926,298h30v5h-8v9h10v13h-30v-11h9v-8h-11z" fill="none" stroke="#8a8a8a" stroke-width=".5"/>
  <path d="M930,310h6v10h-6z M940,316h6v6h-6z" fill="none" stroke="#8a8a8a" stroke-width=".5"/>
  <rect x="965" y="294.8" width="15" height="17.2" fill="#5d6062"/>
  <rect x="967.2" y="312" width="81" height="16.2" fill="url(#gd)"/>
  <line x1="1021.8" y1="312" x2="1021.8" y2="328.2" stroke="#3f4244" stroke-width=".5"/>
  <rect x="1048" y="319.6" width="25.8" height="3.4" fill="#8e9092"/>
  <rect x="1073.8" y="318.8" width="6.4" height="5" fill="#9da0a2"/>
 </g>
 <use href="#mech" transform="translate(2358.8,0) scale(-1,1)"/>
 <rect x="1080.2" y="318" width="198.1" height="7" fill="#c3c5c7" stroke="#777" stroke-width=".5"/>
 <line x1="1080.2" y1="320.8" x2="1278.3" y2="320.8" stroke="#ebebeb" stroke-width="1.2"/>
 <line x1="898.2" y1="192" x2="1460.6" y2="192" class="d"/>
 <line x1="925.5" y1="205.5" x2="1433.8" y2="205.5" class="d"/>
 <line x1="1433.8" y1="357.2" x2="1460.6" y2="357.2" class="d"/>
 <g class="l">
  <line x1="898.2" y1="187.5" x2="898.2" y2="213.7"/>
  <line x1="1460.6" y1="187.5" x2="1460.6" y2="360"/>
  <line x1="925.5" y1="202.5" x2="925.5" y2="294.8"/>
  <line x1="1433.8" y1="202.5" x2="1433.8" y2="360"/>
  <line x1="862" y1="235.2" x2="905.5" y2="235.2"/>
  <line x1="862" y1="330.5" x2="898.2" y2="330.5"/>
  <line x1="967.5" y1="246.8" x2="997.5" y2="246.8"/>
  <line x1="967.5" y1="246.8" x2="929" y2="291"/>
  <line x1="1363" y1="248" x2="1395.5" y2="248"/>
  <line x1="1395.5" y1="248" x2="1429.5" y2="291"/>
  <line x1="1466" y1="283" x2="1505" y2="283"/>
  <line x1="1466" y1="298" x2="1500" y2="298"/>
  <line x1="1460.6" y1="329.2" x2="1505" y2="329.2"/>
 </g>
 <line x1="867" y1="214" x2="867" y2="223.8" class="e"/>
 <line x1="867" y1="244" x2="867" y2="235.2" class="e"/>
 <line x1="867" y1="320" x2="867" y2="328.2" class="e"/>
 <line x1="867" y1="339" x2="867" y2="330.5" class="e"/>
 <ellipse cx="929.7" cy="286.6" rx="1.9" ry="2.6" fill="none" stroke="#222" stroke-width=".6"/>
 <ellipse cx="1428.3" cy="287.3" rx="1.9" ry="2.6" fill="none" stroke="#222" stroke-width=".6"/>
 <g class="ds">
  <line x1="929.7" y1="286.6" x2="987" y2="286.6"/>
  <line x1="931" y1="261.5" x2="931" y2="286"/>
  <line x1="1375" y1="287.3" x2="1428.3" y2="287.3"/>
  <line x1="1429.5" y1="262.5" x2="1429.5" y2="287"/>
 </g>
 <line x1="914" y1="261.5" x2="920.4" y2="261.5" class="e"/>
 <line x1="941" y1="261.5" x2="935.3" y2="261.5" class="e"/>
 <line x1="1417" y1="262.5" x2="1423.2" y2="262.5" class="e"/>
 <line x1="1450" y1="262.5" x2="1444.5" y2="262.5" class="e"/>
 <line x1="985.6" y1="269" x2="985.6" y2="294.8" class="e"/>
 <line x1="1375.4" y1="269" x2="1375.4" y2="294.8" class="e"/>
 <line x1="1021.8" y1="294.8" x2="1021.8" y2="329.2" class="d"/>
 <line x1="1082.3" y1="314.2" x2="1278.3" y2="314.2" class="d"/>
 <line x1="1433.8" y1="247.5" x2="1453.8" y2="247.5" class="d"/>
 <line x1="1444.4" y1="287.3" x2="1444.4" y2="307.7" class="d"/>
 <line x1="1496.4" y1="283" x2="1496.4" y2="298" class="d"/>
 <line x1="1502" y1="283" x2="1502" y2="329.2" class="d"/>
 <g fill="#333">
  <text x="1197.3" y="189.8" font-size="6.8" text-anchor="middle">LW</text>
  <text transform="translate(860,205.5) rotate(-90)" font-size="7.6" text-anchor="middle" dy=".35em">(Min) 7</text>
  <text transform="translate(860,314.2) rotate(-90)" font-size="7.6" text-anchor="middle" dy=".35em">(Min) 3</text>
  <text x="939.5" y="260.6" font-size="6.8" text-anchor="middle">7</text>
  <text transform="translate(980,274.4) rotate(-90)" font-size="7" text-anchor="middle" dy=".35em">11</text>
  <text transform="translate(1016.2,274.4) rotate(-90)" font-size="7.4" text-anchor="middle" dy=".35em">(Min) 27.5</text>
  <text x="1158" y="313" font-size="7" textLength="39" lengthAdjust="spacingAndGlyphs">LA=LW-330</text>
  <text x="1198" y="309.6" font-size="3.6">+0mm</text>
  <text x="1198" y="313.4" font-size="3.6">-5mm</text>
  <text x="1418.9" y="261" font-size="6.8" text-anchor="middle">7</text>
  <text transform="translate(1370.7,274.4) rotate(-90)" font-size="7" text-anchor="middle" dy=".35em">11</text>
  <text transform="translate(1439.3,289.4) rotate(-90)" font-size="7" text-anchor="middle" dy=".35em">10</text>
  <text transform="translate(1491.3,291.6) rotate(-90)" font-size="7" text-anchor="middle" dy=".35em">12</text>
  <text transform="translate(1497.7,305.6) rotate(-90)" font-size="7" text-anchor="middle" dy=".35em">37</text>
 </g>
</g>
<use href="#wd" transform="translate(0,189.5)"/>
<g fill="#333">
 <text x="1154.7" y="203.3" font-size="9.6" textLength="63.5" lengthAdjust="spacingAndGlyphs">SKW=LW-42</text>
 <text x="1219.5" y="197.8" font-size="4">+0</text><text x="1219.5" y="203.4" font-size="4">-1.5</text>
 <text x="1186.7" y="268.5" font-size="11.5" text-anchor="middle" textLength="111" lengthAdjust="spacingAndGlyphs">316DCA80安装参数</text>
 <text x="967.5" y="245.6" font-size="7.6" textLength="31" lengthAdjust="spacingAndGlyphs">⌀6 h10</text>
 <text x="1363.5" y="245.8" font-size="7.6" textLength="28" lengthAdjust="spacingAndGlyphs">⌀6 h10</text>
 <text x="1398.9" y="245.8" font-size="7.2" textLength="32.7" lengthAdjust="spacingAndGlyphs">(Max) 16</text>
 <text x="1465.8" y="357.5" font-size="8">21</text>
</g>
<g fill="#333">
 <text x="1154.7" y="392.8" font-size="9.6" textLength="63.5" lengthAdjust="spacingAndGlyphs">SKW=LW-46</text>
 <text x="1219.5" y="387.3" font-size="4">+0</text><text x="1219.5" y="392.9" font-size="4">-1.5</text>
 <text x="1186.7" y="458" font-size="11.5" text-anchor="middle" textLength="111" lengthAdjust="spacingAndGlyphs">318DCA80安装参数</text>
 <text x="963.8" y="435.2" font-size="7.6" textLength="31" lengthAdjust="spacingAndGlyphs">h10 ⌀6</text>
 <text x="1357.1" y="435.2" font-size="7.6" textLength="28" lengthAdjust="spacingAndGlyphs">h10 ⌀6</text>
 <text x="1398.9" y="435.2" font-size="7.2" textLength="32.7" lengthAdjust="spacingAndGlyphs">(Max) 18</text>
 <text x="1465.8" y="545.3" font-size="8">23</text>
</g>
</g>

<!-- legend -->
<rect x="843.2" y="575" width="658" height="66.3" fill="#eeefef"/>
<g font-size="7.8" fill="#555" transform="matrix(0.98537,0,0,1,12.37,0)">
 <text x="886.6" y="592.6" textLength="73.4" lengthAdjust="spacingAndGlyphs">LW=柜体内部净宽</text>
 <text x="886.6" y="605.5" textLength="96" lengthAdjust="spacingAndGlyphs">LW=Cabinet inner width</text>
 <text x="886.6" y="620.6" textLength="69" lengthAdjust="spacingAndGlyphs">NL=导轨标称长度</text>
 <text x="886.6" y="633.1" textLength="92.8" lengthAdjust="spacingAndGlyphs">NL=Nominal slide length</text>
 <text x="1017.9" y="595.2" textLength="52.7" lengthAdjust="spacingAndGlyphs">LA=铝杆长度</text>
 <text x="1017.9" y="605.5" textLength="100" lengthAdjust="spacingAndGlyphs">LA=Aluminum rod length</text>
 <text x="1017.9" y="620.6" textLength="68" lengthAdjust="spacingAndGlyphs">LT=柜体内部深度</text>
 <text x="1017.9" y="633.1" textLength="91.5" lengthAdjust="spacingAndGlyphs">LT=Cabinet inner depth</text>
 <text x="1140.6" y="592.6" textLength="61.7" lengthAdjust="spacingAndGlyphs">SKW=抽屉宽度</text>
 <text x="1140.6" y="605.5" textLength="77.7" lengthAdjust="spacingAndGlyphs">SKW=Drawer width</text>
 <text x="1140.6" y="620.6" textLength="56" lengthAdjust="spacingAndGlyphs">SKL=抽屉长度</text>
 <text x="1140.6" y="633.1" textLength="75.5" lengthAdjust="spacingAndGlyphs">SKL=Drawer length</text>
 <text x="1245.1" y="592.6" textLength="37.6" lengthAdjust="spacingAndGlyphs">最大尺寸</text>
 <text x="1245.1" y="605.5" textLength="18" lengthAdjust="spacingAndGlyphs">Max</text>
 <text x="1245.1" y="620.6" textLength="67.8" lengthAdjust="spacingAndGlyphs">ISKL=内抽屉长度</text>
 <text x="1245.1" y="633.1" textLength="99" lengthAdjust="spacingAndGlyphs">ISKL=Drawer inner length</text>
 <text x="1364.3" y="592.6" textLength="36.7" lengthAdjust="spacingAndGlyphs">最小尺寸</text>
 <text x="1364.3" y="605.5" textLength="16" lengthAdjust="spacingAndGlyphs">Min</text>
 <text x="1364.3" y="620.6" textLength="62.6" lengthAdjust="spacingAndGlyphs">X=抽屉面板厚度</text>
 <text x="1364.3" y="633.1" textLength="100.6" lengthAdjust="spacingAndGlyphs">X=Drawer panel thickness</text>
</g>

<text x="856.3" y="664.6" font-size="10.2" fill="#24508f" textLength="61" lengthAdjust="spacingAndGlyphs">抽柜深度尺寸</text>
<text x="919.9" y="664.6" font-size="8" fill="#555" textLength="70" lengthAdjust="spacingAndGlyphs">DRAWER DEPTH SIZE</text>
<text x="1194.3" y="664.6" font-size="10.2" fill="#24508f" textLength="60.6" lengthAdjust="spacingAndGlyphs">抽屉底部加工</text>
<text x="1256.9" y="664.6" font-size="8" fill="#555" textLength="105" lengthAdjust="spacingAndGlyphs">DRAWER BOTTOM PROCESSING</text>
<rect x="843.2" y="669" width="344" height="353" fill="#eeefef"/>
<rect x="1194.3" y="669" width="306.8" height="353" fill="#eeefef"/>

<!-- depth: standard drawer -->
<text x="855.6" y="691.3" font-size="7.4" fill="#444" textLength="80" lengthAdjust="spacingAndGlyphs">建议间隙(min gap)5mm</text>
<text x="1003.8" y="686.6" font-size="8" fill="#444" text-anchor="middle">抽屉外盖安装</text>
<text x="1003.8" y="696.6" font-size="8.4" fill="#444" text-anchor="middle" textLength="65" lengthAdjust="spacingAndGlyphs">Standard drawer</text>
<rect x="881.2" y="705.2" width="7.8" height="84" class="w"/>
<rect x="896.8" y="705.2" width="262" height="6.9" class="w"/>
<rect x="1152.1" y="712.1" width="6.7" height="77.1" class="w"/>
<rect x="896.8" y="782.6" width="255.3" height="6.6" class="w"/>
<rect x="1133.1" y="728.5" width="7.2" height="41.3" class="w"/>
<rect x="889" y="762.9" width="10" height="7.4" class="w"/>
<use href="#dr"/>
<line x1="880" y1="698.5" x2="888.6" y2="698.5" class="e"/>
<line x1="936" y1="698.5" x2="896.8" y2="698.5" class="e"/>
<g class="l">
 <line x1="889" y1="695" x2="889" y2="705"/>
 <line x1="896.8" y1="695" x2="896.8" y2="705"/>
 <line x1="1148.8" y1="721" x2="1148.8" y2="780"/>
 <line x1="915.8" y1="770" x2="915.8" y2="807"/>
 <line x1="896.8" y1="789.2" x2="896.8" y2="807"/>
 <line x1="889" y1="789.2" x2="889" y2="831"/>
 <line x1="1141" y1="770" x2="1141" y2="813.5"/>
 <line x1="1152.1" y1="789.2" x2="1152.1" y2="831"/>
</g>
<line x1="889" y1="724.4" x2="1148.8" y2="724.4" class="d"/>
<line x1="896.8" y1="804" x2="915.8" y2="804" class="d"/>
<line x1="889" y1="810.9" x2="1141" y2="810.9" class="d"/>
<line x1="889" y1="828.2" x2="1152.1" y2="828.2" class="d"/>
<g fill="#333">
 <text x="1025" y="722.5" font-size="9.6" text-anchor="middle">NL</text>
 <text x="906.2" y="800.6" font-size="9" text-anchor="middle">37</text>
 <text x="1028.4" y="809.2" font-size="9.6" text-anchor="middle" textLength="49" lengthAdjust="spacingAndGlyphs">SKL=NL-10</text>
 <text x="1028.4" y="824.7" font-size="9.6" text-anchor="middle" textLength="67.5" lengthAdjust="spacingAndGlyphs">(Min) LT=NL+10</text>
 <text transform="translate(863.4,760.5) rotate(-90)" font-size="8.2" text-anchor="middle" dy=".35em">柜体前沿</text>
 <text transform="translate(873.4,760.5) rotate(-90)" font-size="8.2" text-anchor="middle" dy=".35em" textLength="50" lengthAdjust="spacingAndGlyphs">Cabinet edge</text>
</g>

<!-- depth: built-in drawer -->
<text x="1004.9" y="861.8" font-size="8" fill="#444" text-anchor="middle">抽屉内置安装</text>
<text x="1004.9" y="872.2" font-size="8.4" fill="#444" text-anchor="middle" textLength="64" lengthAdjust="spacingAndGlyphs">Built-in drawers</text>
<rect x="887.2" y="880.9" width="273.8" height="6.6" class="w"/>
<rect x="1153.2" y="887.5" width="7.8" height="76.9" class="w"/>
<rect x="887.2" y="957.5" width="266" height="6.9" class="w"/>
<rect x="887.2" y="888.7" width="7.4" height="68.3" class="w"/>
<rect x="1134.7" y="903.5" width="6.9" height="41.3" class="w"/>
<rect x="894.6" y="938.6" width="5.6" height="7.4" fill="#dedede" stroke="#999" stroke-width=".4"/>
<use href="#dr" transform="translate(1.2,176.2)"/>
<line x1="880" y1="906.7" x2="887.2" y2="906.7" class="e"/>
<line x1="908" y1="906.7" x2="894.6" y2="906.7" class="e"/>
<g class="l">
 <line x1="1149.9" y1="916" x2="1149.9" y2="955"/>
 <line x1="916.4" y1="946" x2="916.4" y2="982"/>
 <line x1="887.2" y1="964.4" x2="887.2" y2="1006"/>
 <line x1="1142.1" y1="946" x2="1142.1" y2="989"/>
 <line x1="1153.2" y1="964.4" x2="1153.2" y2="1006"/>
</g>
<line x1="894.6" y1="919.5" x2="1149.9" y2="919.5" class="d"/>
<line x1="887.2" y1="979.9" x2="916.4" y2="979.9" class="d"/>
<line x1="887.2" y1="986.5" x2="1142.1" y2="986.5" class="d"/>
<line x1="887.2" y1="1003.7" x2="1153.2" y2="1003.7" class="d"/>
<g fill="#333">
 <text x="903" y="903.4" font-size="9.6" text-anchor="middle">X</text>
 <text x="1027.2" y="918.2" font-size="9.6" text-anchor="middle">NL</text>
 <text x="901.3" y="975.2" font-size="7.4" text-anchor="middle" textLength="27" lengthAdjust="spacingAndGlyphs">37+X+5</text>
 <text x="1029.5" y="984.5" font-size="9.6" text-anchor="middle" textLength="52" lengthAdjust="spacingAndGlyphs">ISKL=SKL+X</text>
 <text x="1030.6" y="1000.5" font-size="9.6" text-anchor="middle" textLength="80" lengthAdjust="spacingAndGlyphs">(Min) LT=NL+X+10</text>
 <text transform="translate(854.4,932.5) rotate(-90)" font-size="8.2" text-anchor="middle" dy=".35em">柜体前沿</text>
 <text transform="translate(864.5,932.5) rotate(-90)" font-size="8.2" text-anchor="middle" dy=".35em" textLength="50" lengthAdjust="spacingAndGlyphs">Cabinet edge</text>
</g>

<!-- bottom processing iso drawer -->
<g stroke="#5a5a5a" stroke-width=".5" stroke-linejoin="round">
 <polygon points="1356.3,753.8 1479.3,825.5 1479.3,894.1 1356.3,822.2" fill="#f1dcb1"/>
 <polygon points="1356.3,753.8 1363.2,751.4 1486.9,822 1479.3,825.5" fill="#f6e6c6"/>
 <polygon points="1479.3,825.5 1486.9,822 1486.9,896.2 1479.3,894.1" fill="#ead2a4"/>
 <line x1="1360" y1="760" x2="1481" y2="829" stroke="#8c8c8c"/>
 <polygon points="1262.1,831.3 1361,773.4 1475,833.6 1369.6,891.6" fill="#f3e0bb"/>
 <polygon points="1255.2,827.1 1356.3,768.7 1361,771.1 1262.1,831.3" fill="#f6e6c6"/>
 <polygon points="1255.2,829 1365.3,890.4 1365.3,940.2 1255.2,880" fill="#f1dcb1"/>
 <line x1="1262.1" y1="831.3" x2="1262.1" y2="882.3"/>
 <line x1="1262.1" y1="833" x2="1369.6" y2="893"/>
 <polygon points="1365.3,890.4 1371.8,893.9 1371.8,946 1365.3,940.2" fill="#ead2a4"/>
 <polygon points="1365.3,890.4 1469.6,831.3 1476.1,834.8 1371.8,893.9" fill="#f6e6c6"/>
 <polygon points="1371.8,893.9 1476.1,834.8 1477.2,886.9 1371.8,946" fill="#f1dcb1"/>
</g>
<g fill="none" stroke="#555" stroke-width=".5">
 <ellipse cx="1266" cy="844.3" rx="1.4" ry="1.8"/><ellipse cx="1271.8" cy="839.6" rx="1.2" ry="1.6"/>
 <ellipse cx="1361.5" cy="900" rx="1.4" ry="1.8"/><ellipse cx="1367.5" cy="895.3" rx="1.2" ry="1.6"/>
</g>
<polygon points="1346,803.5 1348.1,792 1356.7,773.4 1369.6,773.4 1376.1,782.6 1367.5,796.5 1348.1,805.8" fill="#e8e8e8" stroke="#555" stroke-width=".5"/>
<rect x="1359" y="781" width="7" height="8" fill="#444"/>
<line x1="1347.5" y1="801" x2="1357" y2="806" stroke="#333" stroke-width="1.6"/>
<g class="l">
 <line x1="1361" y1="737" x2="1361" y2="771"/><line x1="1364" y1="737" x2="1364" y2="771"/>
 <line x1="1314" y1="777" x2="1335" y2="771"/><line x1="1316" y1="781" x2="1337" y2="775"/>
</g>
<line x1="1219" y1="873" x2="1259" y2="847.5" stroke="#9a9a9a" stroke-width="2.4"/>
<line x1="1219" y1="873" x2="1259" y2="847.5" stroke="#e8e8e8" stroke-width=".8"/>
<line x1="1243" y1="858" x2="1257" y2="849" stroke="#555" stroke-width="2" stroke-dasharray=".8 .8"/>
<g class="l">
 <line x1="1217" y1="858" x2="1243.8" y2="901.5"/>
 <line x1="1243.8" y1="901.5" x2="1317" y2="901.5"/>
 <line x1="1245" y1="831.5" x2="1262" y2="831.5"/>
 <line x1="1245" y1="827" x2="1262" y2="827"/>
 <line x1="1266" y1="846" x2="1266" y2="876"/>
 <line x1="1255.2" y1="880" x2="1255.2" y2="876"/>
 <line x1="1369.6" y1="893.9" x2="1408.4" y2="917.1"/>
 <line x1="1477.2" y1="834.8" x2="1498" y2="846.5"/>
</g>
<line x1="1248.1" y1="808" x2="1248.1" y2="827" class="e"/>
<line x1="1248.1" y1="838" x2="1248.1" y2="831.5" class="e"/>
<line x1="1277.2" y1="831.3" x2="1277.2" y2="856.8" class="d"/>
<line x1="1256" y1="873" x2="1266" y2="873" class="d"/>
<line x1="1384.7" y1="905.5" x2="1495.4" y2="845.2" class="d"/>
<g fill="#333">
 <text x="1243.8" y="814.4" font-size="8.2" text-anchor="end">Min9</text>
 <text x="1243.8" y="822.1" font-size="8.2" text-anchor="end">Max11</text>
 <text x="1286.5" y="835" font-size="8.2" text-anchor="middle">11</text>
 <text x="1270.7" y="872" font-size="8.2" text-anchor="middle">7</text>
 <text x="1244" y="899.3" font-size="8.6" textLength="73" lengthAdjust="spacingAndGlyphs">⌀6钻孔深度Min10</text>
 <text transform="translate(1367,964) rotate(-32.4)" font-size="9" textLength="122" lengthAdjust="spacingAndGlyphs">抽屉长度SKL=导轨标称长度NL-10</text>
</g>
</svg>
</body></html>
